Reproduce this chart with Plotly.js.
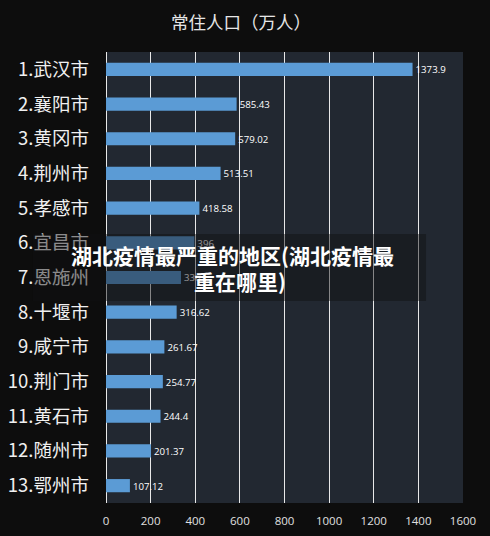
<!DOCTYPE html>
<html>
<head>
<meta charset="utf-8">
<script src="https://cdn.plot.ly/plotly-3.0.1.min.js"></script>
<style>
  html, body { margin: 0; padding: 0; background: #0d0d0d; }
  #chart { width: 490px; height: 536px; }
</style>
</head>
<body>
<div id="chart"></div>
<script>
const cities = ["1.武汉市", "2.襄阳市", "3.黄冈市", "4.荆州市", "5.孝感市", "6.宜昌市", "7.恩施州",
                "8.十堰市", "9.咸宁市", "10.荆门市", "11.黄石市", "12.随州市", "13.鄂州市"];
const population = [1373.9, 585.43, 579.02, 513.51, 418.58, 396, 336, 316.62, 261.67, 254.77, 244.4, 201.37, 107.12];
const valueLabels = ["1373.9", "585.43", "579.02", "513.51", "418.58", "396", "336", "316.62", "261.67", "254.77", "244.4", "201.37", "107.12"];
const xTicks = [0, 200, 400, 600, 800, 1000, 1200, 1400, 1600];
const chartTitle = "常住人口（万人）";
const overlayLine1 = "湖北疫情最严重的地区(湖北疫情最";
const overlayLine2 = "重在哪里)";

const fam = "Open Sans, Noto Sans CJK SC, sans-serif";

const trace = {
  type: "bar",
  orientation: "h",
  y: cities,
  x: population,
  text: valueLabels,
  textposition: "outside",
  textfont: { color: "#ffffff", size: 11, family: fam },
  cliponaxis: false,
  marker: { color: "#5b9bd5" },
  hoverinfo: "x+y"
};

const layout = {
  width: 490,
  height: 536,
  paper_bgcolor: "#0d0d0d",
  plot_bgcolor: "#222831",
  margin: { l: 106, r: 27, t: 52, b: 33 },
  bargap: 0.62,
  showlegend: false,
  title: {
    text: chartTitle,
    font: { color: "#e6e6e6", size: 17.5, family: "Noto Sans CJK SC, sans-serif" },
    x: 0.492, xanchor: "center",
    y: 0.958, yanchor: "middle"
  },
  xaxis: {
    range: [0, 1600],
    tickvals: xTicks,
    ticktext: xTicks.map(String),
    showgrid: true,
    gridcolor: "#e8e8e8",
    gridwidth: 1,
    zeroline: true,
    zerolinecolor: "#e8e8e8",
    showline: false,
    ticks: "",
    ticklabelstandoff: 9,
    tickfont: { color: "#e0e0e0", size: 11.5, family: fam },
    fixedrange: true
  },
  yaxis: {
    type: "category",
    categoryorder: "array",
    categoryarray: cities,
    autorange: "reversed",
    showgrid: false,
    zeroline: false,
    ticks: "",
    ticklabelstandoff: 16,
    tickfont: { color: "#f0f0f0", size: 18.5, family: "Noto Sans CJK SC, sans-serif" },
    fixedrange: true
  },
  shapes: [{
    type: "rect",
    xref: "paper", yref: "paper",
    x0: -0.2045, x1: 0.8964,
    y0: 0.4479, y1: 0.5965,
    fillcolor: "rgba(15,15,18,0.45)",
    line: { width: 0 },
    layer: "above"
  }],
  annotations: [
    {
      xref: "paper", yref: "paper",
      x: 0.3557, y: 0.55,
      xanchor: "center", yanchor: "middle",
      text: "<b>" + overlayLine1 + "</b>",
      showarrow: false,
      font: { color: "#ffffff", size: 21, family: "Noto Sans CJK SC, sans-serif" }
    },
    {
      xref: "paper", yref: "paper",
      x: 0.3754, y: 0.4922,
      xanchor: "center", yanchor: "middle",
      text: "<b>" + overlayLine2 + "</b>",
      showarrow: false,
      font: { color: "#ffffff", size: 21, family: "Noto Sans CJK SC, sans-serif" }
    }
  ]
};

Plotly.newPlot("chart", [trace], layout, { staticPlot: true, displayModeBar: false });
</script>
</body>
</html>
